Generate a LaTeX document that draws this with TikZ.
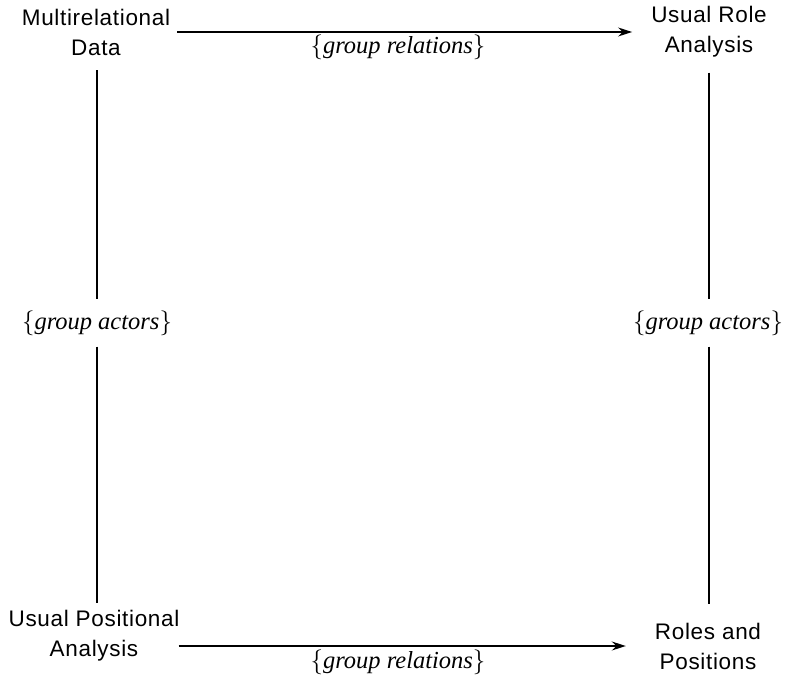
\documentclass[tikz,border=0pt]{standalone}
\usepackage{fontspec}
\setmainfont{Liberation Serif}
\setsansfont{Liberation Sans}[LetterSpace=3]
\usetikzlibrary{arrows.meta}

\begin{document}
\begin{tikzpicture}[x=1pt,y=-1pt,
  box/.style={align=center,font=\sffamily\fontsize{22.5}{30}\selectfont,inner sep=3pt},
  grp/.style={font=\fontsize{24.5}{26}\selectfont\itshape,inner sep=3pt},
  flow/.style={line width=1.4pt,-{Stealth[length=14pt,width=9pt]}},
  link/.style={line width=1.6pt}]
  \useasboundingbox (0,0) rectangle (785,677);

  % the four analyses
  \node[box] (mrd) at (96,32) {Multirelational\\Data};
  \node[box] (ura) at (709,32) {Usual Role\\Analysis};
  \node[box] (upa) at (94,636) {Usual Positional\\Analysis};
  \node[box] (rap) at (708,646) {Roles and\\Positions};

  % what gets grouped on each side
  \node[grp] (gal) at (97,323) {\(\{\)group actors\(\}\)};
  \node[grp] (gar) at (708,323) {\(\{\)group actors\(\}\)};
  \node[grp] (grt) at (398,47) {\(\{\)group relations\(\}\)};
  \node[grp] (grb) at (398,662) {\(\{\)group relations\(\}\)};

  \draw[flow,shorten <=4pt,shorten >=16pt] (mrd.east) -- (ura.west);
  \draw[flow,shorten <=-4pt,shorten >=26pt] (upa.east |- rap.west) -- (rap.west);

  \draw[link,shorten <=12pt,shorten >=8pt] (mrd.south -| gal) -- (gal.north);
  \draw[link,shorten <=8pt,shorten >=4pt] (gal.south) -- (upa.north -| gal);
  \draw[link,shorten <=12pt,shorten >=8pt] (ura.south) -- (gar.north -| ura);
  \draw[link,shorten <=8pt,shorten >=16pt] (gar.south -| ura) -- (rap.north -| ura);
\end{tikzpicture}
\end{document}
